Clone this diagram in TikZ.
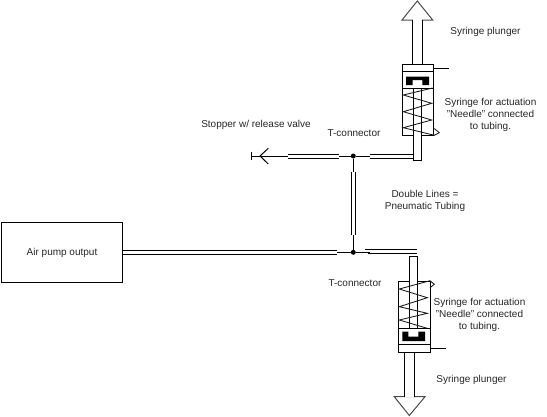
\documentclass[tikz,border=0pt]{standalone}
\usepackage{fontspec}
\setmainfont{Liberation Sans}
\tikzset{
  lbl/.style={font=\fontsize{10}{12.3}\selectfont,text=black!85,align=center,inner sep=0pt},
  pipe/.style={draw=black,line width=1pt},
  spring/.style={draw=black!90,line width=0.85pt,line join=miter},
  head/.style={draw=black!70,line width=1pt,fill=white},
  junction/.style={circle,fill=black,inner sep=0pt,minimum size=5pt},
}
\begin{document}
\begin{tikzpicture}[x=1pt,y=-1pt]
\useasboundingbox (0,0) rectangle (547,416);
% pump
\node[draw=black,line width=1pt,minimum width=121pt,minimum height=60pt,inner sep=0pt,anchor=north west,fill=white] (pump) at (1,222.3) {};
\node[lbl] (pumplabel) at (62,253) {Air pump output};
% junctions
\node[junction] (T1) at (353.3,156) {};
\node[junction] (T2) at (353.3,252.3) {};
% top tube
\coordinate (stem) at (251,156);
\draw[pipe] (251,152.3) -- (251,160);
\draw[pipe] (268.3,148.3) -- (260,156) -- (268.3,164);
\draw[pipe] (stem) -- (287.7,156);
\draw[pipe] (287.7,154.3) -- (339.3,154.3) (287.7,158.3) -- (339.3,158.3);
\draw[pipe] (339.3,156) -- (T1) -- (369.7,156);
\draw[pipe] (369.7,154.3) -- (413.3,154.3) (369.7,158.3) -- (413.3,158.3);
% vertical tube
\draw[pipe] (T1) -- (353.3,171.7);
\draw[pipe] (351.5,171.7) -- (351.5,235) (355.5,171.7) -- (355.5,235);
\draw[pipe] (353.3,235) -- (T2);
% lower tube
\draw[pipe] (pump.east |- 0,250.3) -- (337.3,250.3) (pump.east |- 0,254.3) -- (337.3,254.3);
\draw[pipe] (337.3,252.3) -- (T2) -- (370,252.3);
\draw[pipe] (365,249) -- (417.3,249) (368,253.3) -- (417.3,253.3);
% top syringe
\draw[head] (417.3,1) -- (432.7,20) -- (402,20) -- cycle;
\draw[pipe] (412.3,20) -- (412.3,64) (422.3,20) -- (422.3,64);
\draw[draw=white,line width=1.4pt] (413.1,20) -- (421.5,20);
\node[draw=black,line width=1pt,minimum width=31.6pt,minimum height=71.3pt,inner sep=0pt,anchor=north west] (body1) at (401.7,64) {};
\draw[pipe] (401.7,71.7) -- (433.3,71.7) (401.7,88) -- (433.3,88);
\draw[pipe] (433.3,68) -- (449,68);
\fill[black] (406,76.7) -- (429,76.7) -- (429,85) -- (422.3,85) -- (422.3,80) -- (412.7,80) -- (412.7,85) -- (406,85) -- cycle;
\draw[pipe,fill=white] (413.3,88) rectangle (421.7,160);
\draw[spring] (432.7,88) -- (403.3,95) -- (431.7,103.3) -- (403.3,111.7) -- (431.7,120) -- (403.3,127.7) -- (434.3,135.3) -- (439.3,132.7) -- (434.3,128.5);
% bottom syringe
\draw[head] (409.3,415.5) -- (425,396.7) -- (394.3,396.7) -- cycle;
\draw[pipe] (404.3,352.3) -- (404.3,396.7) (414.3,352.3) -- (414.3,396.7);
\draw[draw=white,line width=1.4pt] (405.1,396.7) -- (413.5,396.7);
\node[draw=black,line width=1pt,minimum width=32.3pt,minimum height=71.6pt,inner sep=0pt,anchor=north west] (body2) at (397.7,280.7) {};
\draw[pipe] (397.7,328.3) -- (430,328.3) (397.7,344.3) -- (430,344.3);
\draw[pipe] (430,348.3) -- (445.7,348.3);
\fill[black] (402.3,331.7) -- (408.3,331.7) -- (408.3,336.7) -- (418.3,336.7) -- (418.3,331.7) -- (425,331.7) -- (425,341) -- (402.3,341) -- cycle;
\draw[pipe,fill=white] (409.3,256.7) rectangle (417.7,328.3);
\draw[spring] (430,287.7) -- (434.3,284.3) -- (430,280.7) -- (399.3,289) -- (427.3,297.7) -- (399.3,306.7) -- (427.3,313.3) -- (399.3,320) -- (427.3,328.3);
% labels
\node[lbl] (plunger1) at (485.5,31.5) {Syringe plunger};
\node[lbl] (act1) at (490.5,114.8) {Syringe for actuation\\"Needle" connected\\to tubing.};
\node[lbl] (stopper) at (256,125) {Stopper w/ release valve};
\node[lbl] (tc1) at (354,133) {T-connector};
\node[lbl] (dbl) at (425,201) {Double Lines =\\Pneumatic Tubing};
\node[lbl] (tc2) at (355,283) {T-connector};
\node[lbl] (act2) at (479.5,314.8) {Syringe for actuation\\"Needle" connected\\to tubing.};
\node[lbl] (plunger2) at (471.5,379.5) {Syringe plunger};
\end{tikzpicture}
\end{document}
